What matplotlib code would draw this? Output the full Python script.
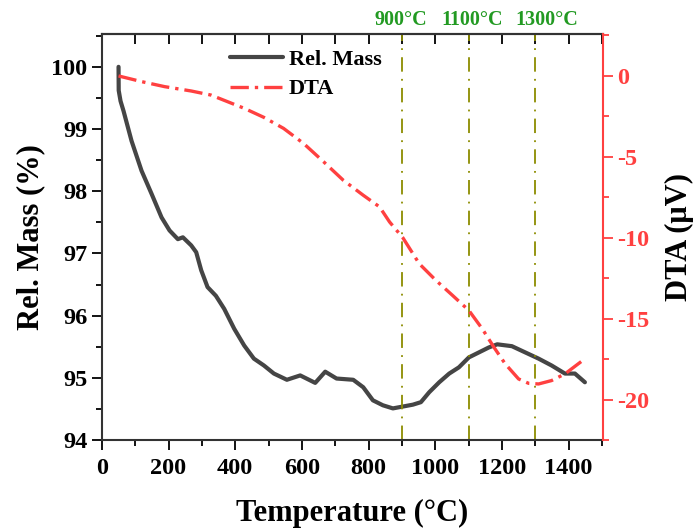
import matplotlib
matplotlib.use("Agg")
import matplotlib.pyplot as plt
from matplotlib.ticker import MultipleLocator
import matplotlib.transforms as mtransforms

plt.rcParams['font.family'] = ['Liberation Serif', 'DejaVu Serif']
plt.rcParams['font.weight'] = 'bold'
plt.rcParams['axes.unicode_minus'] = False

# relative mass (left axis)
mass_temp = [50, 50.5, 56, 65, 89, 119, 149, 179, 203, 228, 243, 268, 283, 298, 317, 342,
             367, 397, 427, 456, 486, 516, 555, 595, 640, 670, 704, 754, 784, 813, 843,
             873, 903, 933, 957, 982, 1012, 1042, 1071, 1101, 1131, 1161, 1186, 1230,
             1270, 1310, 1349, 1389, 1419, 1449]
mass = [100.0, 99.62, 99.45, 99.29, 98.81, 98.33, 97.96, 97.58, 97.37, 97.23, 97.26,
        97.13, 97.02, 96.73, 96.46, 96.32, 96.11, 95.79, 95.52, 95.31, 95.20, 95.07,
        94.97, 95.04, 94.92, 95.10, 94.99, 94.97, 94.85, 94.64, 94.56, 94.51, 94.54,
        94.57, 94.61, 94.77, 94.93, 95.07, 95.17, 95.33, 95.41, 95.49, 95.54, 95.51,
        95.41, 95.31, 95.20, 95.07, 95.07, 94.93]

# DTA (right axis)
dta_temp = [50, 119, 188, 268, 327, 377, 427, 486, 545, 605, 665, 724, 784, 833, 863,
            903, 952, 1002, 1052, 1101, 1141, 1176, 1210, 1250, 1280, 1310, 1349, 1389, 1439]
dta = [0.0, -0.35, -0.66, -0.93, -1.18, -1.59, -2.0, -2.56, -3.24, -4.17, -5.3, -6.44,
       -7.37, -8.09, -9.02, -10.0, -11.6, -12.63, -13.56, -14.49, -15.62, -16.76, -17.79,
       -18.72, -18.99, -19.03, -18.82, -18.41, -17.63]

marks = [900, 1100, 1300]
mark_labels = ['900°C', '1100°C', '1300°C']
label_x = [898, 1111, 1336]

red = '#ff4040'
dark = '#454545'

fig = plt.figure(figsize=(6.93, 5.29), dpi=100)
ax = fig.add_axes([0.147, 0.168, 0.723, 0.768])
ax2 = ax.twinx()

l1, = ax.plot(mass_temp, mass, color=dark, lw=3, solid_capstyle='round', label='Rel. Mass')
l2, = ax2.plot(dta_temp, dta, color=red, lw=2.4, dashes=(5.5, 1.8, 1, 1.8), label='DTA')

for t in marks:
    ax.axvline(t, color='#8c8c00', lw=1.3, ls='-.', dashes=(8, 4, 1, 4))

trans = mtransforms.blended_transform_factory(ax.transData, ax.transAxes)
for x, s in zip(label_x, mark_labels):
    ax.text(x, 1.035, s, transform=trans, ha='center', va='center',
            color='#229a22', fontsize=14.5, fontweight='bold')

ax.set_xlim(0, 1503)
ax.set_ylim(94, 100.53)
ax2.set_ylim(-22.5, 2.6)

ax.xaxis.set_major_locator(MultipleLocator(200))
ax.xaxis.set_minor_locator(MultipleLocator(100))
ax.yaxis.set_major_locator(MultipleLocator(1))
ax.yaxis.set_minor_locator(MultipleLocator(0.5))
ax2.yaxis.set_major_locator(MultipleLocator(5))
ax2.yaxis.set_minor_locator(MultipleLocator(2.5))

ax.tick_params(axis='both', which='major', direction='out', length=7, width=1.3,
               labelsize=17.5, colors='black')
ax.tick_params(axis='both', which='minor', direction='out', length=4, width=1.3)
ax.tick_params(axis='x', which='major', pad=6)
ax2.tick_params(axis='y', which='major', direction='out', length=7, width=1.3,
                labelsize=17.5, colors=red)
ax2.tick_params(axis='y', which='minor', direction='out', length=4, width=1.3, colors=red)

top = ax.secondary_xaxis('top')
top.xaxis.set_major_locator(MultipleLocator(100))
top.tick_params(direction='in', length=7, width=1.3, labeltop=False)
top.spines['top'].set_color('#222222')
top.spines['top'].set_linewidth(1.5)

for side in ['left', 'bottom', 'top']:
    ax.spines[side].set_color('#333333')
    ax.spines[side].set_linewidth(1.5)
ax.spines['right'].set_visible(False)
ax2.spines['right'].set_color(red)
ax2.spines['right'].set_linewidth(1.5)
ax2.spines['left'].set_visible(False)
ax2.spines['top'].set_visible(False)
ax2.spines['bottom'].set_visible(False)

for lab in ax.get_xticklabels() + ax.get_yticklabels() + ax2.get_yticklabels():
    lab.set_fontweight('bold')

ax.set_xlabel('Temperature (°C)', fontsize=22, fontweight='bold', labelpad=14)
ax.set_ylabel('Rel. Mass (%)', fontsize=22, fontweight='bold', labelpad=4)
ax2.set_ylabel('DTA (μV)', fontsize=22, fontweight='bold', labelpad=11)

ax.legend([l1, l2], ['Rel. Mass', 'DTA'], loc='upper left', bbox_to_anchor=(0.256, 0.962),
          frameon=False, handlelength=2.4, handletextpad=0.25,
          labelspacing=0.4, borderpad=0, borderaxespad=0, prop={'weight': 'bold', 'size': 16})

fig.savefig('out.png', dpi=100)
